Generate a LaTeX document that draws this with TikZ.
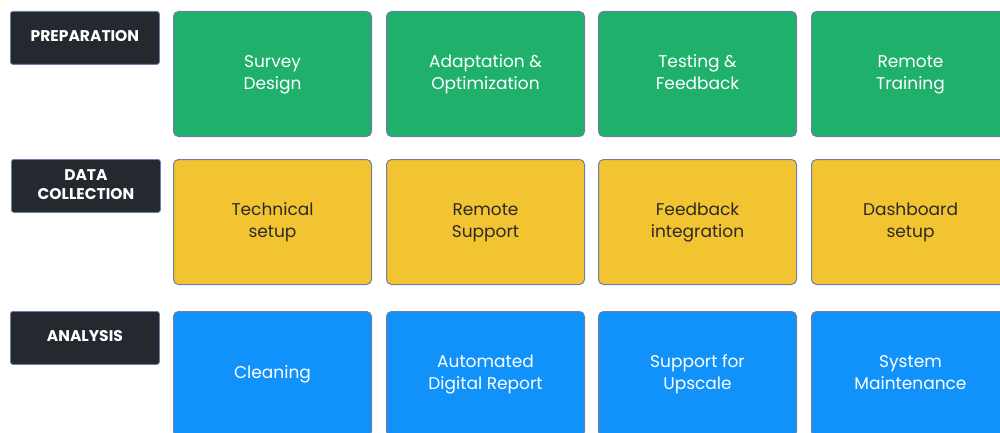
\documentclass[tikz,border=0pt]{standalone}
\usepackage{fontspec}
\setmainfont{Poppins}
\definecolor{cgreen}{HTML}{1FB06B}
\definecolor{cyellow}{HTML}{F2C431}
\definecolor{cblue}{HTML}{1192FA}
\definecolor{cdark}{HTML}{25282E}
\definecolor{cedge}{HTML}{6E7FA6}
\definecolor{ctextd}{HTML}{2B2A28}
\newcommand{\tl}[2]{\strut#1\\\strut#2}
\begin{document}
\begin{tikzpicture}[x=1pt,y=-1pt,
  cell/.style={draw=cedge, line width=1pt, rounded corners=5pt, minimum width=198pt, minimum height=125pt, anchor=north west, align=center, inner sep=0pt, font=\fontsize{17}{22}\selectfont},
  gcell/.style={cell, fill=cgreen, text=white},
  ycell/.style={cell, fill=cyellow, text=ctextd},
  bcell/.style={cell, fill=cblue, text=white},
  lab/.style={draw=cedge, line width=0.8pt, fill=cdark, text=white, rounded corners=2.5pt, minimum width=149pt, minimum height=53pt, anchor=north west, align=center, inner sep=0pt, font=\bfseries\fontsize{15.5}{19.5}\selectfont}]
\useasboundingbox (0,0) rectangle (1000,433);
\node[lab] (l1) at (10,11) {\strut PREPARATION};
\node[lab] (l2) at (11,159) {\tl{DATA}{COLLECTION}};
\node[lab] (l3) at (10,311) {\strut ANALYSIS};
\node[gcell] (g1) at (173,11) {\tl{Survey}{Design}};
\node[gcell] (g2) at (386,11) {\tl{Adaptation \&}{Optimization}};
\node[gcell] (g3) at (598,11) {\tl{Testing \&}{Feedback}};
\node[gcell] (g4) at (811,11) {\tl{Remote}{Training}};
\node[ycell] (y1) at (173,159) {\tl{Technical}{setup}};
\node[ycell] (y2) at (386,159) {\tl{Remote}{Support}};
\node[ycell] (y3) at (598,159) {\tl{Feedback}{integration}};
\node[ycell] (y4) at (811,159) {\tl{Dashboard}{setup}};
\node[bcell] (b1) at (173,311) {\strut Cleaning};
\node[bcell] (b2) at (386,311) {\tl{Automated}{Digital Report}};
\node[bcell] (b3) at (598,311) {\tl{Support for}{Upscale}};
\node[bcell] (b4) at (811,311) {\tl{System}{Maintenance}};
\end{tikzpicture}
\end{document}
